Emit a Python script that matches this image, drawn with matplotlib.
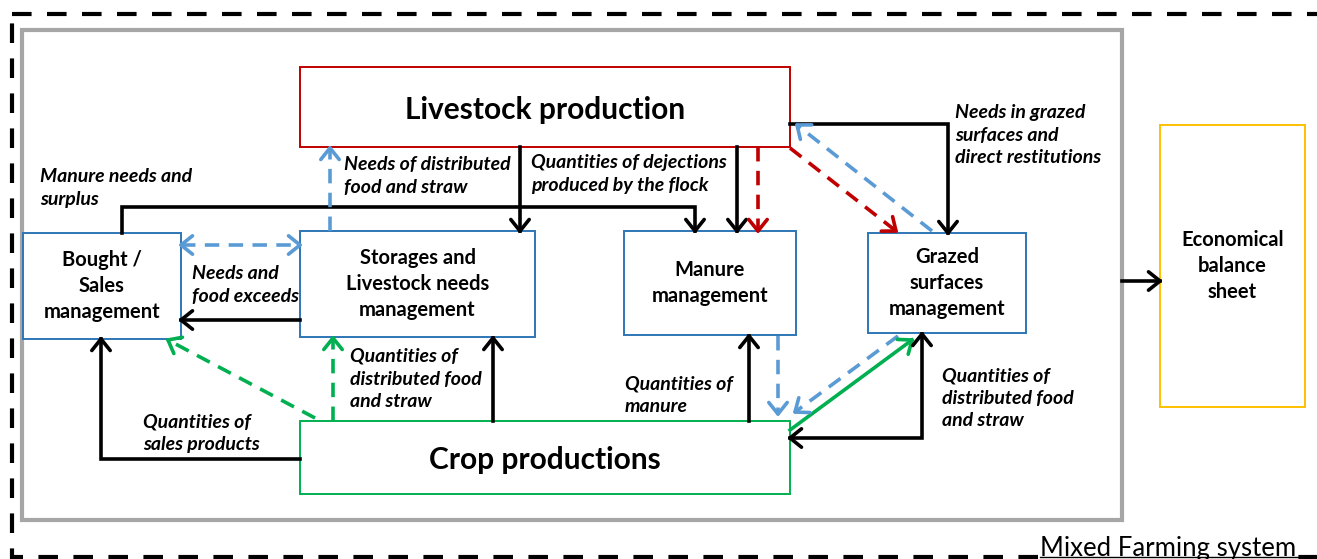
import matplotlib.pyplot as plt
import numpy as np
from matplotlib.patches import Rectangle

# Canvas in pixel units (y grows downward)
W, H = 1317, 559
FONT = "Lato"

BLACK = "black"
BLUE = "#5b9bd5"
RED = "#c00000"
GREEN = "#00b050"

# Boxes: label, (x0, y0, x1, y1), edge colour
BOX_LABELS = [
    "Livestock production",
    "Bought /\nSales\nmanagement",
    "Storages and\nLivestock needs\nmanagement",
    "Manure\nmanagement",
    "Grazed\nsurfaces\nmanagement",
    "Economical\nbalance\nsheet",
    "Crop productions",
]
BOX_EXTENTS = [
    (300, 67, 790, 147),
    (23, 233, 181, 339),
    (300, 231, 535, 337),
    (624, 231, 796, 335),
    (868, 233, 1026, 333),
    (1160, 125, 1305, 407),
    (300, 421, 790, 494),
]
BOX_COLORS = [RED, "#2e75b6", "#2e75b6", "#2e75b6", "#2e75b6", "#ffc000", GREEN]
BOX_SIZES = [21.5, 14.5, 14.5, 14.5, 14.5, 14.5, 21.5]

# Flow labels (bold italic), top-left anchored
FLOW_LABELS = [
    "Manure needs and\nsurplus",
    "Needs of distributed\nfood and straw",
    "Quantities of dejections\nproduced by the flock",
    "Needs in grazed\nsurfaces and\ndirect restitutions",
    "Needs and\nfood exceeds",
    "Quantities of\ndistributed food\nand straw",
    "Quantities of\nsales products",
    "Quantities of\nmanure",
    "Quantities of\ndistributed food\nand straw",
]
FLOW_LABEL_XY = [
    (40, 168), (344, 156), (531, 154), (955, 104), (192, 265),
    (350, 348), (143, 413), (625, 375), (942, 367),
]

# Links: polyline points, colour, dashed, heads at (start, end)
LINKS = [
    ([(122, 233), (122, 207), (695, 207), (695, 231)], BLACK, False, (False, True)),
    ([(520, 147), (520, 231)], BLACK, False, (False, True)),
    ([(737, 147), (737, 231)], BLACK, False, (False, True)),
    ([(758, 147), (758, 231)], RED, True, (False, True)),
    ([(790, 124), (948, 124), (948, 233)], BLACK, False, (False, True)),
    ([(790, 148), (896, 231)], RED, True, (False, True)),
    ([(932, 231), (797, 125)], BLUE, True, (False, True)),
    ([(330, 231), (330, 148)], BLUE, True, (False, True)),
    ([(181, 245), (300, 245)], BLUE, True, (True, True)),
    ([(300, 320), (181, 320)], BLACK, False, (False, True)),
    ([(315, 418), (168, 340)], GREEN, True, (False, True)),
    ([(333, 421), (333, 338)], GREEN, True, (False, True)),
    ([(493, 421), (493, 338)], BLACK, False, (False, True)),
    ([(300, 459), (101, 459), (101, 339)], BLACK, False, (False, True)),
    ([(749, 421), (749, 336)], BLACK, False, (False, True)),
    ([(778, 336), (778, 414)], BLUE, True, (False, True)),
    ([(898, 336), (795, 412)], BLUE, True, (False, True)),
    ([(790, 430), (912, 340)], GREEN, False, (False, True)),
    ([(790, 438), (922, 438), (922, 334)], BLACK, False, (True, True)),
    ([(1122, 281), (1160, 281)], BLACK, False, (False, True)),
]


def chevron(ax, tip, frm, color, size=11.5, spread=0.8, lw=2.6):
    tx, ty = tip
    fx, fy = frm
    d = np.hypot(tx - fx, ty - fy)
    ux, uy = (tx - fx) / d, (ty - fy) / d
    px, py = -uy, ux
    for s in (1, -1):
        bx = tx - size * ux + s * size * spread * px
        by = ty - size * uy + s * size * spread * py
        ax.plot([bx, tx], [by, ty], color=color, lw=lw,
                solid_capstyle="round", zorder=4)


def main():
    fig = plt.figure(figsize=(W / 100, H / 100), dpi=100)
    ax = fig.add_axes([0, 0, 1, 1])
    ax.set_xlim(0, W)
    ax.set_ylim(H, 0)
    ax.axis("off")

    # outer dashed frame (Mixed farming system), right side off canvas
    ax.add_patch(Rectangle((12, 14), 1330, 543, fill=False, edgecolor=BLACK,
                           lw=3.0, linestyle=(0, (4.7, 3.7)), zorder=1))
    # grey farm frame
    ax.add_patch(Rectangle((22, 30), 1100, 490, fill=False,
                           edgecolor="#a6a6a6", lw=3.0, zorder=1))

    for label, (x0, y0, x1, y1), col, fs in zip(BOX_LABELS, BOX_EXTENTS,
                                                BOX_COLORS, BOX_SIZES):
        ax.add_patch(Rectangle((x0, y0), x1 - x0, y1 - y0, facecolor="white",
                               edgecolor=col, lw=1.4, zorder=2))
        cy = (y0 + y1) / 2 + (3 if fs > 20 else 0)
        ax.text((x0 + x1) / 2, cy, label, ha="center",
                va="center", fontsize=fs, fontweight="bold", family=FONT,
                linespacing=1.38, zorder=3)

    for text, (x, y) in zip(FLOW_LABELS, FLOW_LABEL_XY):
        ax.text(x, y, text, ha="left", va="top", fontsize=14,
                fontweight="bold", fontstyle="italic", family=FONT,
                linespacing=1.4, zorder=3)

    for pts, col, dashed, (h0, h1) in LINKS:
        xs = [p[0] for p in pts]
        ys = [p[1] for p in pts]
        ls = (0, (4, 2.6)) if dashed else "-"
        ax.plot(xs, ys, color=col, lw=2.6, linestyle=ls,
                solid_joinstyle="miter", zorder=3)
        if h1:
            chevron(ax, pts[-1], pts[-2], col)
        if h0:
            chevron(ax, pts[0], pts[1], col)

    ax.text(1040, 556, "Mixed Farming system", ha="left", va="baseline",
            fontsize=18.5, family=FONT, zorder=3,
            bbox=dict(facecolor="white", edgecolor="none", pad=1))
    ax.plot([1040, 1300], [557, 557], color=BLACK, lw=1.0, zorder=4)

    fig.savefig("out.png", dpi=100)


if __name__ == "__main__":
    main()
